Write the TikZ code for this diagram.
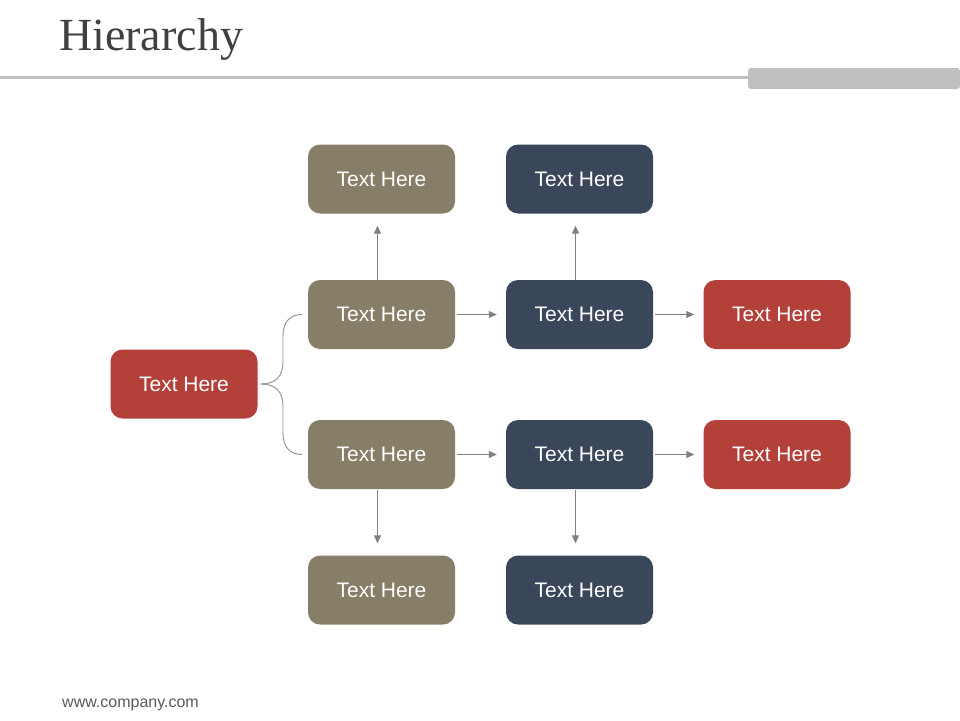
\documentclass[tikz,border=0pt]{standalone}
\usepackage{fontspec}
\setmainfont{Liberation Sans}
\newfontfamily\titlefont{Liberation Serif}
\usetikzlibrary{arrows.meta}
\definecolor{tanc}{HTML}{867E66}
\definecolor{navyc}{HTML}{3A475A}
\definecolor{redc}{HTML}{B4403A}
\definecolor{arrowgray}{HTML}{808080}
\definecolor{rulegray}{HTML}{BFBFBF}
\definecolor{titlegray}{HTML}{404040}
\definecolor{footgray}{HTML}{595959}
\tikzset{
  box/.style={rounded corners=12pt, minimum width=147pt, minimum height=69pt, inner sep=0pt,
    text=white, font=\fontsize{21}{25}\selectfont},
  tanbox/.style={box, fill=tanc},
  navybox/.style={box, fill=navyc},
  redbox/.style={box, fill=redc},
  arr/.style={draw=arrowgray, line width=1pt, -{Triangle[length=8pt,width=7pt]}},
  brace/.style={draw=arrowgray!90, line width=0.9pt},
}
\begin{document}
\begin{tikzpicture}[x=1pt,y=-1pt]
\useasboundingbox (0,0) rectangle (960,720);
% header
\node[anchor=base west, inner sep=0pt, text=titlegray, font=\titlefont\fontsize{46}{50}\selectfont] (title) at (59,50) {Hierarchy};
\fill[rulegray] (0,76) rectangle (750,78.5);
\fill[rulegray, rounded corners=3pt] (748,68) rectangle (960,89);
% nodes
\node[redbox] (L) at (184,384) {Text Here};
\node[tanbox] (a1) at (381.5,179) {Text Here};
\node[navybox] (a2) at (579.5,179) {Text Here};
\node[tanbox] (b1) at (381.5,314.5) {Text Here};
\node[navybox] (b2) at (579.5,314.5) {Text Here};
\node[redbox] (b3) at (777,314.5) {Text Here};
\node[tanbox] (c1) at (381.5,454.5) {Text Here};
\node[navybox] (c2) at (579.5,454.5) {Text Here};
\node[redbox] (c3) at (777,454.5) {Text Here};
\node[tanbox] (d1) at (381.5,590) {Text Here};
\node[navybox] (d2) at (579.5,590) {Text Here};
% vertical arrows
\draw[arr, shorten >=12pt] ([xshift=-4pt]b1.north) -- ([xshift=-4pt]a1.south);
\draw[arr, shorten >=12pt] ([xshift=-4pt]b2.north) -- ([xshift=-4pt]a2.south);
\draw[arr, shorten >=12pt, shorten <=1pt] ([xshift=-4pt]c1.south) -- ([xshift=-4pt]d1.north);
\draw[arr, shorten >=12pt, shorten <=1pt] ([xshift=-4pt]c2.south) -- ([xshift=-4pt]d2.north);
% horizontal arrows
\draw[arr, shorten <=2pt, shorten >=9pt] (b1.east) -- (b2.west);
\draw[arr, shorten <=2pt, shorten >=9pt] (b2.east) -- (b3.west);
\draw[arr, shorten <=2pt, shorten >=9pt] (c1.east) -- (c2.west);
\draw[arr, shorten <=2pt, shorten >=9pt] (c2.east) -- (c3.west);
% brace
\draw[brace] ([xshift=3pt]L.east) .. controls (276,384) and (283,376) .. (283,362) -- (283,336)
  .. controls (283,322) and (290,314.5) .. ([xshift=-6pt]b1.west);
\draw[brace] ([xshift=3pt]L.east) .. controls (276,384) and (283,392) .. (283,406) -- (283,433)
  .. controls (283,447) and (290,454.5) .. ([xshift=-6pt]c1.west);
% footer
\node[anchor=base west, inner sep=0pt, text=footgray, font=\fontsize{16}{19}\selectfont] (foot) at (62,707) {www.company.com};
\end{tikzpicture}
\end{document}
